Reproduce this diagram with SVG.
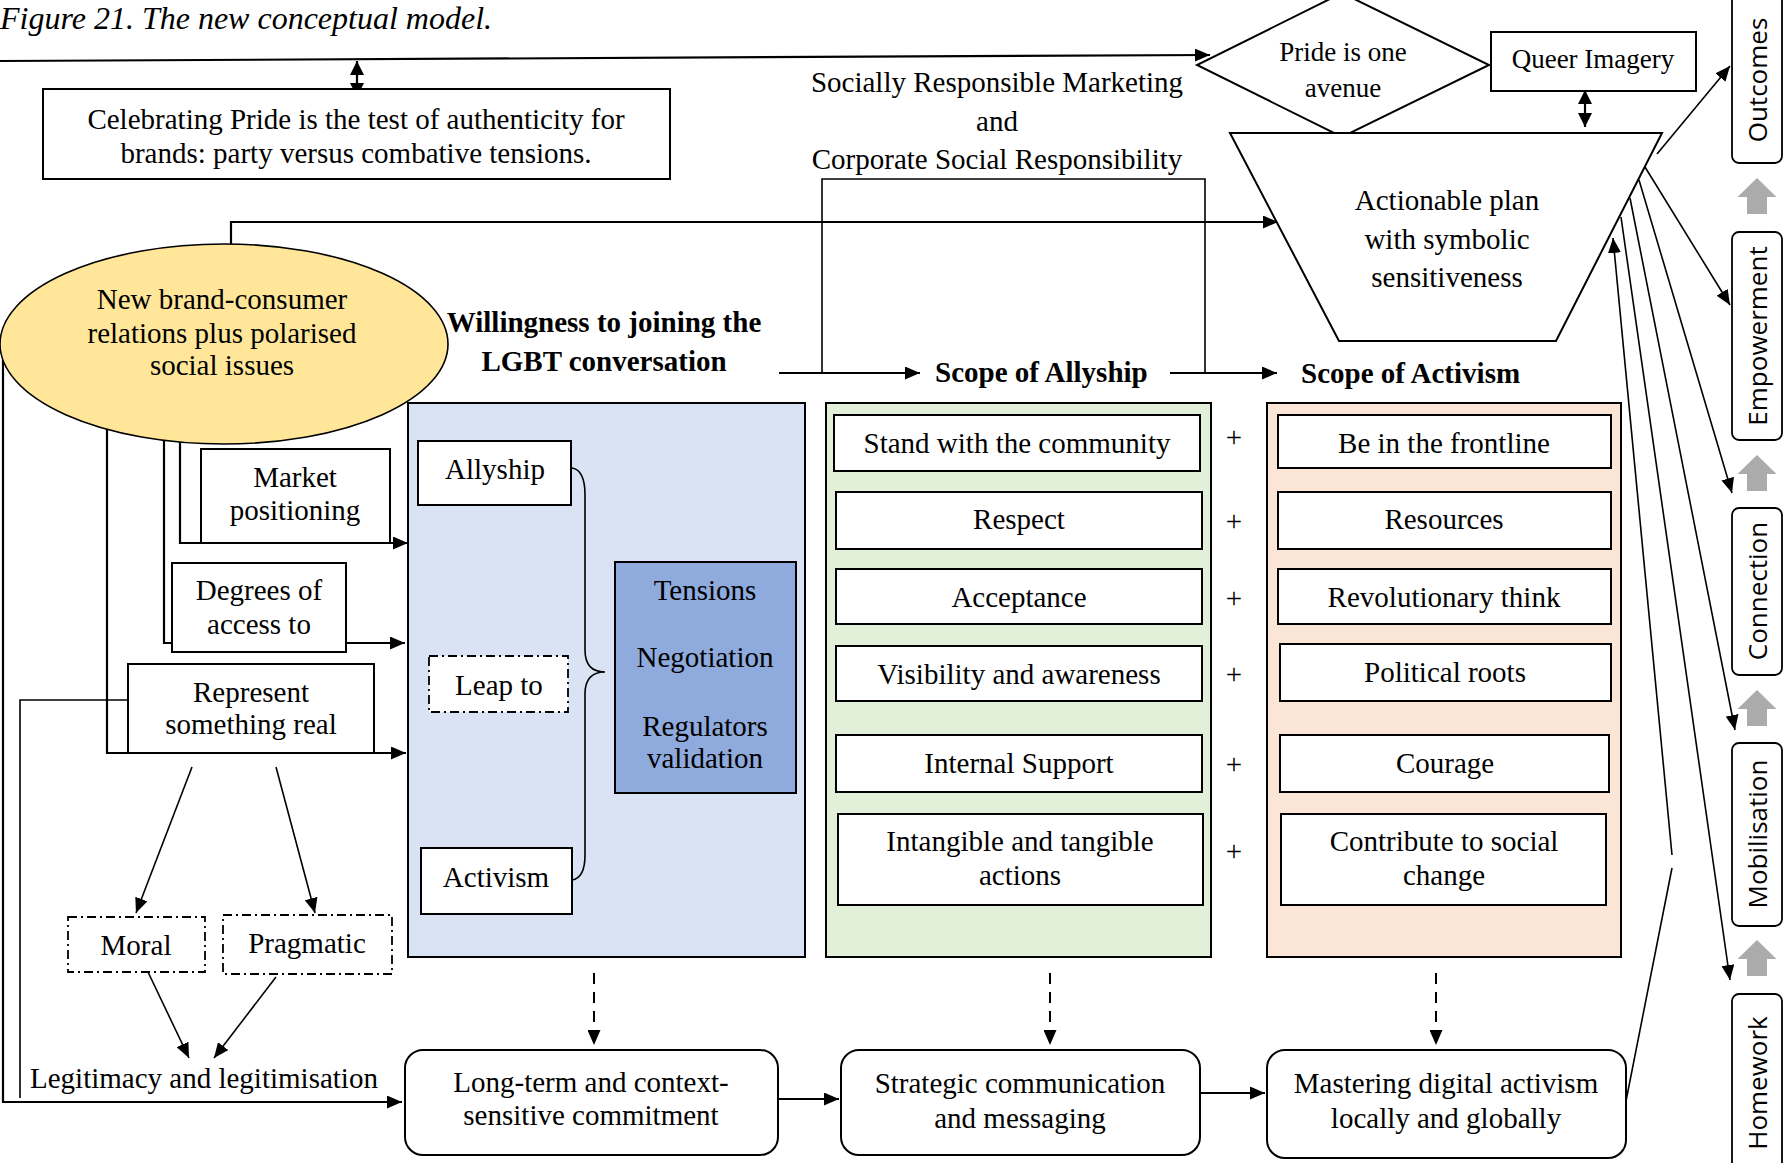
<svg xmlns="http://www.w3.org/2000/svg" xmlns:xlink="http://www.w3.org/1999/xlink" width="1783" height="1163" viewBox="0 0 1783 1163">
<style>
text{font-family:"Liberation Serif","Times New Roman",serif;font-size:29px;fill:#000}
.c{text-anchor:middle}
.b{font-weight:bold}
.s27{font-size:27px}
.title{font-size:32px;font-style:italic}
.box{fill:#fff;stroke:#000;stroke-width:2}
.dd{fill:#fff;stroke:#000;stroke-width:1.8;stroke-dasharray:9,4,2,4}
.ln{fill:none;stroke:#000;stroke-width:2.2}
.th{fill:none;stroke:#000;stroke-width:1.6}
.ar{marker-end:url(#ah)}
.dbl{marker-start:url(#ah2);marker-end:url(#ah2)}
.da{fill:none;stroke:#000;stroke-width:2;stroke-dasharray:11,8}
.stg{fill:#fff;stroke:#000;stroke-width:1.8}
.st{font-family:"Open Sans","Noto Sans",sans-serif;font-size:26px;text-anchor:middle;dominant-baseline:central}
</style>
<defs>
<marker id="ah" viewBox="0 0 15 13" refX="15" refY="6.5" markerWidth="15" markerHeight="13" orient="auto-start-reverse" markerUnits="userSpaceOnUse"><path d="M0,0 L15,6.5 L0,13 z" fill="#000"/></marker>
<marker id="ah2" viewBox="0 0 14 14" refX="14" refY="7" markerWidth="14" markerHeight="14" orient="auto-start-reverse" markerUnits="userSpaceOnUse"><path d="M0,0 L14,7 L0,14 z" fill="#000"/></marker>
<path id="up" d="M0,0 L19.5,19 L10,19 L10,36 L-10,36 L-10,19 L-19.5,19 Z" fill="#ABABAB"/>
</defs>
<rect width="1783" height="1163" fill="#fff"/>
<text class="title" x="0" y="29">Figure 21. The new conceptual model.</text>

<g id="connectors">
<path class="ln ar" d="M0,61 L1210,55"/>
<path class="ln dbl" d="M357,61 V97"/>
<path class="ln dbl" d="M1585,90 V127"/>
<path class="ln ar" d="M231,250 V222 H1278"/>
<path class="th" d="M822,373 V179 H1205 V373"/>
<path class="ln ar" d="M779,373 H920"/>
<path class="ln ar" d="M1170,373 H1277"/>
<path class="ln ar" d="M180,420 V543 H408"/>
<path class="ln ar" d="M164,420 V643 H405"/>
<path class="ln ar" d="M107,420 V753 H406"/>
<path class="th" d="M128,700 H20 V1098"/>
<path class="ln ar" d="M3,360 V1102 H402"/>
<path class="th ar" d="M192,767 L136,913"/>
<path class="th ar" d="M276,767 L315,913"/>
<path class="th ar" d="M148,972 L189,1058"/>
<path class="th ar" d="M276,977 L214,1058"/>
<path class="th" d="M498,505 L499,656"/>
<path class="th ar" d="M500,712 L502,829"/>
<path class="da ar" d="M594,973 V1045"/>
<path class="da ar" d="M1050,973 V1045"/>
<path class="da ar" d="M1436,973 V1045"/>
<path class="ln ar" d="M778,1099 H839"/>
<path class="ln ar" d="M1200,1093 H1265"/>
<path class="th ar" d="M1657,154 L1730,66"/>
<path class="th ar" d="M1645,167 L1730,305"/>
<path class="th ar" d="M1639,180 L1732,493"/>
<path class="th ar" d="M1630,198 L1735,730"/>
<path class="th ar" d="M1621,217 L1730,980"/>
<path class="th" d="M1626,1101 L1672,868"/>
<path class="th ar" d="M1672,855 L1613,238"/>
</g>

<g id="celebrating"><rect class="box" x="43" y="89" width="627" height="90"/>
<text class="c" x="356" y="129">Celebrating Pride is the test of authenticity for</text>
<text class="c" x="356" y="163">brands: party versus combative tensions.</text></g>

<g id="srm"><text class="c" x="997" y="92">Socially Responsible Marketing</text>
<text class="c" x="997" y="131">and</text>
<text class="c" x="997" y="169">Corporate Social Responsibility</text></g>

<g id="pride"><polygon class="box" points="1342,-7 1489,65 1342,137 1197,65"/>
<text class="c s27" x="1343" y="61">Pride is one</text>
<text class="c s27" x="1343" y="97">avenue</text></g>

<g id="queer"><rect class="box" x="1491" y="32" width="205" height="59"/>
<text class="c s27" x="1593" y="68">Queer Imagery</text></g>

<g id="plan"><polygon class="box" points="1230,133 1662,133 1556,341 1339,341"/>
<text class="c" x="1447" y="210">Actionable plan</text>
<text class="c" x="1447" y="249">with symbolic</text>
<text class="c" x="1447" y="287">sensitiveness</text></g>

<g id="ellipse"><ellipse cx="224" cy="344" rx="224" ry="100" fill="#FFE699" stroke="#000" stroke-width="1.6"/>
<text class="c" x="222" y="309">New brand-consumer</text>
<text class="c" x="222" y="343">relations plus polarised</text>
<text class="c" x="222" y="375">social issues</text></g>

<g id="willingness"><text class="c b" x="604" y="332">Willingness to joining the</text>
<text class="c b" x="604" y="371">LGBT conversation</text></g>
<g id="scope-allyship"><text class="b" x="935" y="382">Scope of Allyship</text></g>
<g id="scope-activism"><text class="b" x="1301" y="383">Scope of Activism</text></g>

<g id="market"><rect class="box" x="201" y="449" width="189" height="94"/>
<text class="c" x="295" y="487">Market</text><text class="c" x="295" y="520">positioning</text></g>
<g id="degrees"><rect class="box" x="172" y="563" width="174" height="89"/>
<text class="c" x="259" y="600">Degrees of</text><text class="c" x="259" y="634">access to</text></g>
<g id="represent"><rect class="box" x="128" y="664" width="246" height="89"/>
<text class="c" x="251" y="702">Represent</text><text class="c" x="251" y="734">something real</text></g>

<g id="moral"><rect class="dd" x="68" y="917" width="137" height="55"/><text class="c" x="136" y="955">Moral</text></g>
<g id="pragmatic"><rect class="dd" x="223" y="915" width="169" height="59"/><text class="c" x="307" y="953">Pragmatic</text></g>
<g id="legitimacy"><text x="30" y="1088">Legitimacy and legitimisation</text></g>

<g id="willingness-panel"><rect x="408" y="403" width="397" height="554" fill="#DAE3F3" stroke="#000" stroke-width="2"/></g>
<g id="allyship"><rect class="box" x="418" y="441" width="153" height="64"/><text class="c" x="495" y="479">Allyship</text></g>
<g id="leap"><rect class="dd" x="429" y="656" width="139" height="56"/><text class="c" x="499" y="695">Leap to</text></g>
<g id="activism"><rect class="box" x="421" y="848" width="151" height="66"/><text class="c" x="496" y="887">Activism</text></g>
<g id="tensions"><rect x="615" y="562" width="181" height="231" fill="#8FAADC" stroke="#000" stroke-width="2"/>
<text class="c" x="705" y="600">Tensions</text><text class="c" x="705" y="667">Negotiation</text>
<text class="c" x="705" y="736">Regulators</text><text class="c" x="705" y="768">validation</text></g>
<g id="brace"><path class="th" d="M572,468 Q585,470 585,495 V650 Q585,672 605,672 Q585,672 585,694 V855 Q585,878 572,880"/></g>

<g id="allyship-panel"><rect x="826" y="403" width="385" height="554" fill="#E2F0D9" stroke="#000" stroke-width="2"/></g>
<g id="stand"><rect class="box" x="834" y="415" width="366" height="56"/><text class="c" x="1017" y="453">Stand with the community</text></g>
<g id="respect"><rect class="box" x="836" y="492" width="366" height="57"/><text class="c" x="1019" y="529">Respect</text></g>
<g id="acceptance"><rect class="box" x="836" y="569" width="366" height="55"/><text class="c" x="1019" y="607">Acceptance</text></g>
<g id="visibility"><rect class="box" x="836" y="646" width="366" height="55"/><text class="c" x="1019" y="684">Visibility and awareness</text></g>
<g id="internal"><rect class="box" x="836" y="735" width="366" height="57"/><text class="c" x="1019" y="773">Internal Support</text></g>
<g id="intangible"><rect class="box" x="838" y="814" width="365" height="91"/><text class="c" x="1020" y="851">Intangible and tangible</text><text class="c" x="1020" y="885">actions</text></g>

<g id="plus"><text class="c" x="1234" y="447">+</text><text class="c" x="1234" y="531">+</text><text class="c" x="1234" y="608">+</text>
<text class="c" x="1234" y="684">+</text><text class="c" x="1234" y="774">+</text><text class="c" x="1234" y="861">+</text></g>

<g id="activism-panel"><rect x="1267" y="403" width="354" height="554" fill="#FBE5D6" stroke="#000" stroke-width="2"/></g>
<g id="frontline"><rect class="box" x="1278" y="415" width="333" height="53"/><text class="c" x="1444" y="453">Be in the frontline</text></g>
<g id="resources"><rect class="box" x="1278" y="492" width="333" height="57"/><text class="c" x="1444" y="529">Resources</text></g>
<g id="revolutionary"><rect class="box" x="1278" y="569" width="333" height="55"/><text class="c" x="1444" y="607">Revolutionary think</text></g>
<g id="political"><rect class="box" x="1280" y="644" width="331" height="57"/><text class="c" x="1445" y="682">Political roots</text></g>
<g id="courage"><rect class="box" x="1280" y="735" width="329" height="57"/><text class="c" x="1445" y="773">Courage</text></g>
<g id="contribute"><rect class="box" x="1281" y="814" width="325" height="91"/><text class="c" x="1444" y="851">Contribute to social</text><text class="c" x="1444" y="885">change</text></g>

<g id="longterm"><rect class="box" x="405" y="1050" width="373" height="105" rx="18"/>
<text class="c" x="591" y="1092">Long-term and context-</text><text class="c" x="591" y="1125">sensitive commitment</text></g>
<g id="strategic"><rect class="box" x="841" y="1050" width="359" height="105" rx="18"/>
<text class="c" x="1020" y="1093">Strategic communication</text><text class="c" x="1020" y="1128">and messaging</text></g>
<g id="mastering"><rect class="box" x="1267" y="1050" width="359" height="108" rx="18"/>
<text class="c" x="1446" y="1093">Mastering digital activism</text><text class="c" x="1446" y="1128">locally and globally</text></g>

<g id="outcomes"><rect class="stg" x="1732" y="-10" width="50" height="173" rx="7"/><text class="st" x="1757" y="80" transform="rotate(-90 1757 80)">Outcomes</text></g>
<g id="empowerment"><rect class="stg" x="1732" y="232" width="50" height="208" rx="7"/><text class="st" x="1757" y="336" transform="rotate(-90 1757 336)">Empowerment</text></g>
<g id="connection"><rect class="stg" x="1732" y="508" width="50" height="167" rx="7"/><text class="st" x="1757" y="591" transform="rotate(-90 1757 591)">Connection</text></g>
<g id="mobilisation"><rect class="stg" x="1732" y="743" width="50" height="183" rx="7"/><text class="st" x="1757" y="834" transform="rotate(-90 1757 834)">Mobilisation</text></g>
<g id="homework"><rect class="stg" x="1732" y="994" width="50" height="180" rx="7"/><text class="st" x="1757" y="1083" transform="rotate(-90 1757 1083)">Homework</text></g>
<g id="stage-arrows"><use xlink:href="#up" x="1757" y="178"/><use xlink:href="#up" x="1757" y="455"/><use xlink:href="#up" x="1757" y="690"/><use xlink:href="#up" x="1757" y="940"/></g>
</svg>
